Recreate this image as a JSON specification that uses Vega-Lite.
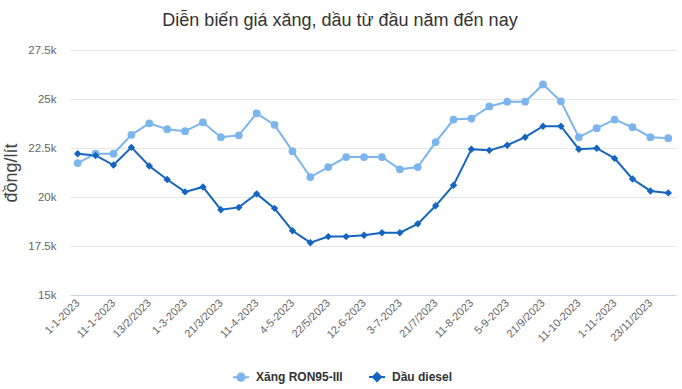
{
  "$schema": "https://vega.github.io/schema/vega-lite/v6.json",
  "width": 606,
  "height": 245,
  "autosize": {"type": "none"},
  "padding": {"left": 70, "top": 50, "right": 6, "bottom": 94},
  "background": "white",
  "config": {"font": "Liberation Sans", "view": {"stroke": null}},
  "title": {"text": "Diễn biến giá xăng, dầu từ đầu năm đến nay", "fontSize": 18, "fontWeight": "normal", "color": "#333333", "offset": 14, "dx": -33, "anchor": "middle", "frame": "group"},
  "data": {"values": [
    {"date": "1-1-2023", "Xăng RON95-III": 21730, "Dầu diesel": 22210},
    {"date": "3-1-2023", "Xăng RON95-III": 22210, "Dầu diesel": 22120},
    {"date": "11-1-2023", "Xăng RON95-III": 22210, "Dầu diesel": 21630},
    {"date": "30-1-2023", "Xăng RON95-III": 23170, "Dầu diesel": 22530},
    {"date": "13/2/2023", "Xăng RON95-III": 23760, "Dầu diesel": 21580},
    {"date": "21/2/2023", "Xăng RON95-III": 23460, "Dầu diesel": 20890},
    {"date": "1-3-2023", "Xăng RON95-III": 23360, "Dầu diesel": 20260},
    {"date": "13/3/2023", "Xăng RON95-III": 23810, "Dầu diesel": 20510},
    {"date": "21/3/2023", "Xăng RON95-III": 23050, "Dầu diesel": 19350},
    {"date": "3-4-2023", "Xăng RON95-III": 23150, "Dầu diesel": 19470},
    {"date": "11-4-2023", "Xăng RON95-III": 24270, "Dầu diesel": 20160},
    {"date": "21/4/2023", "Xăng RON95-III": 23680, "Dầu diesel": 19420},
    {"date": "4-5-2023", "Xăng RON95-III": 22340, "Dầu diesel": 18280},
    {"date": "11-5-2023", "Xăng RON95-III": 21020, "Dầu diesel": 17670},
    {"date": "22/5/2023", "Xăng RON95-III": 21530, "Dầu diesel": 17980},
    {"date": "1-6-2023", "Xăng RON95-III": 22040, "Dầu diesel": 17980},
    {"date": "12-6-2023", "Xăng RON95-III": 22040, "Dầu diesel": 18050},
    {"date": "21/6/2023", "Xăng RON95-III": 22040, "Dầu diesel": 18180},
    {"date": "3-7-2023", "Xăng RON95-III": 21410, "Dầu diesel": 18180},
    {"date": "11-7-2023", "Xăng RON95-III": 21530, "Dầu diesel": 18630},
    {"date": "21/7/2023", "Xăng RON95-III": 22800, "Dầu diesel": 19550},
    {"date": "1-8-2023", "Xăng RON95-III": 23950, "Dầu diesel": 20600},
    {"date": "11-8-2023", "Xăng RON95-III": 24000, "Dầu diesel": 22440},
    {"date": "22/8/2023", "Xăng RON95-III": 24620, "Dầu diesel": 22380},
    {"date": "5-9-2023", "Xăng RON95-III": 24860, "Dầu diesel": 22640},
    {"date": "11-9-2023", "Xăng RON95-III": 24860, "Dầu diesel": 23050},
    {"date": "21/9/2023", "Xăng RON95-III": 25740, "Dầu diesel": 23610},
    {"date": "2-10-2023", "Xăng RON95-III": 24880, "Dầu diesel": 23610},
    {"date": "11-10-2023", "Xăng RON95-III": 23050, "Dầu diesel": 22440},
    {"date": "23/10/2023", "Xăng RON95-III": 23510, "Dầu diesel": 22490},
    {"date": "1-11-2023", "Xăng RON95-III": 23950, "Dầu diesel": 21970},
    {"date": "13/11/2023", "Xăng RON95-III": 23560, "Dầu diesel": 20920},
    {"date": "23/11/2023", "Xăng RON95-III": 23050, "Dầu diesel": 20310},
    {"date": "30/11/2023", "Xăng RON95-III": 23000, "Dầu diesel": 20210}
  ]},
  "transform": [{"fold": ["Xăng RON95-III", "Dầu diesel"], "as": ["series", "price"]}],
  "encoding": {
    "x": {
      "field": "date", "type": "ordinal", "sort": null,
      "scale": {"type": "point", "padding": 0.43},
      "axis": {
        "title": null,
        "values": ["1-1-2023", "11-1-2023", "13/2/2023", "1-3-2023", "21/3/2023", "11-4-2023", "4-5-2023", "22/5/2023", "12-6-2023", "3-7-2023", "21/7/2023", "11-8-2023", "5-9-2023", "21/9/2023", "11-10-2023", "1-11-2023", "23/11/2023"],
        "labelAngle": -45, "labelAlign": "right", "labelBaseline": "middle",
        "labelFontSize": 11, "labelColor": "#666666", "labelPadding": 6,
        "ticks": false, "domain": true, "domainColor": "#ccd6eb", "grid": false
      }
    },
    "y": {
      "field": "price", "type": "quantitative",
      "scale": {"domain": [15000, 27500], "nice": false, "zero": false},
      "axis": {
        "title": "đồng/lít", "titleFontSize": 18, "titleFontWeight": "normal", "titleColor": "#444444", "titlePadding": 7,
        "values": [15000, 17500, 20000, 22500, 25000, 27500], "format": ".3~s",
        "labelFontSize": 11.5, "labelColor": "#666666", "labelPadding": 14,
        "ticks": false, "domain": false, "grid": true, "gridColor": "#e6e6e6"
      }
    },
    "color": {
      "field": "series", "type": "nominal",
      "scale": {"domain": ["Xăng RON95-III", "Dầu diesel"], "range": ["#7cb5ec", "#1565c0"]},
      "legend": {
        "title": null, "orient": "none", "direction": "horizontal",
        "legendX": 162, "legendY": 318,
        "symbolSize": 256, "symbolStrokeWidth": 2, "columnPadding": 22, "labelOffset": 6,
        "labelFontSize": 12, "labelFontWeight": "bold", "labelColor": "#333333",
        "encode": {
          "symbols": {
            "update": {
              "shape": {"signal": "datum.value === 'Dầu diesel' ? 'M-1,0L1,0M0,-0.5L0.5,0L0,0.5L-0.5,0Z' : 'M-1,0L1,0M0.45,0A0.45,0.45,0,1,1,-0.45,0A0.45,0.45,0,1,1,0.45,0Z'"},
              "fill": {"signal": "datum.value === 'Dầu diesel' ? '#1565c0' : '#7cb5ec'"},
              "stroke": {"signal": "datum.value === 'Dầu diesel' ? '#1565c0' : '#7cb5ec'"},
              "strokeWidth": {"value": 2},
              "opacity": {"value": 1}
            }
          }
        }
      }
    }
  },
  "layer": [
    {"mark": {"type": "line", "strokeWidth": 2}},
    {
      "transform": [{"filter": "datum.series === 'Xăng RON95-III'"}],
      "mark": {"type": "point", "filled": true, "opacity": 1, "shape": "circle", "size": 60}
    },
    {
      "transform": [{"filter": "datum.series === 'Dầu diesel'"}],
      "mark": {"type": "point", "filled": true, "opacity": 1, "shape": "diamond", "size": 55}
    }
  ]
}
